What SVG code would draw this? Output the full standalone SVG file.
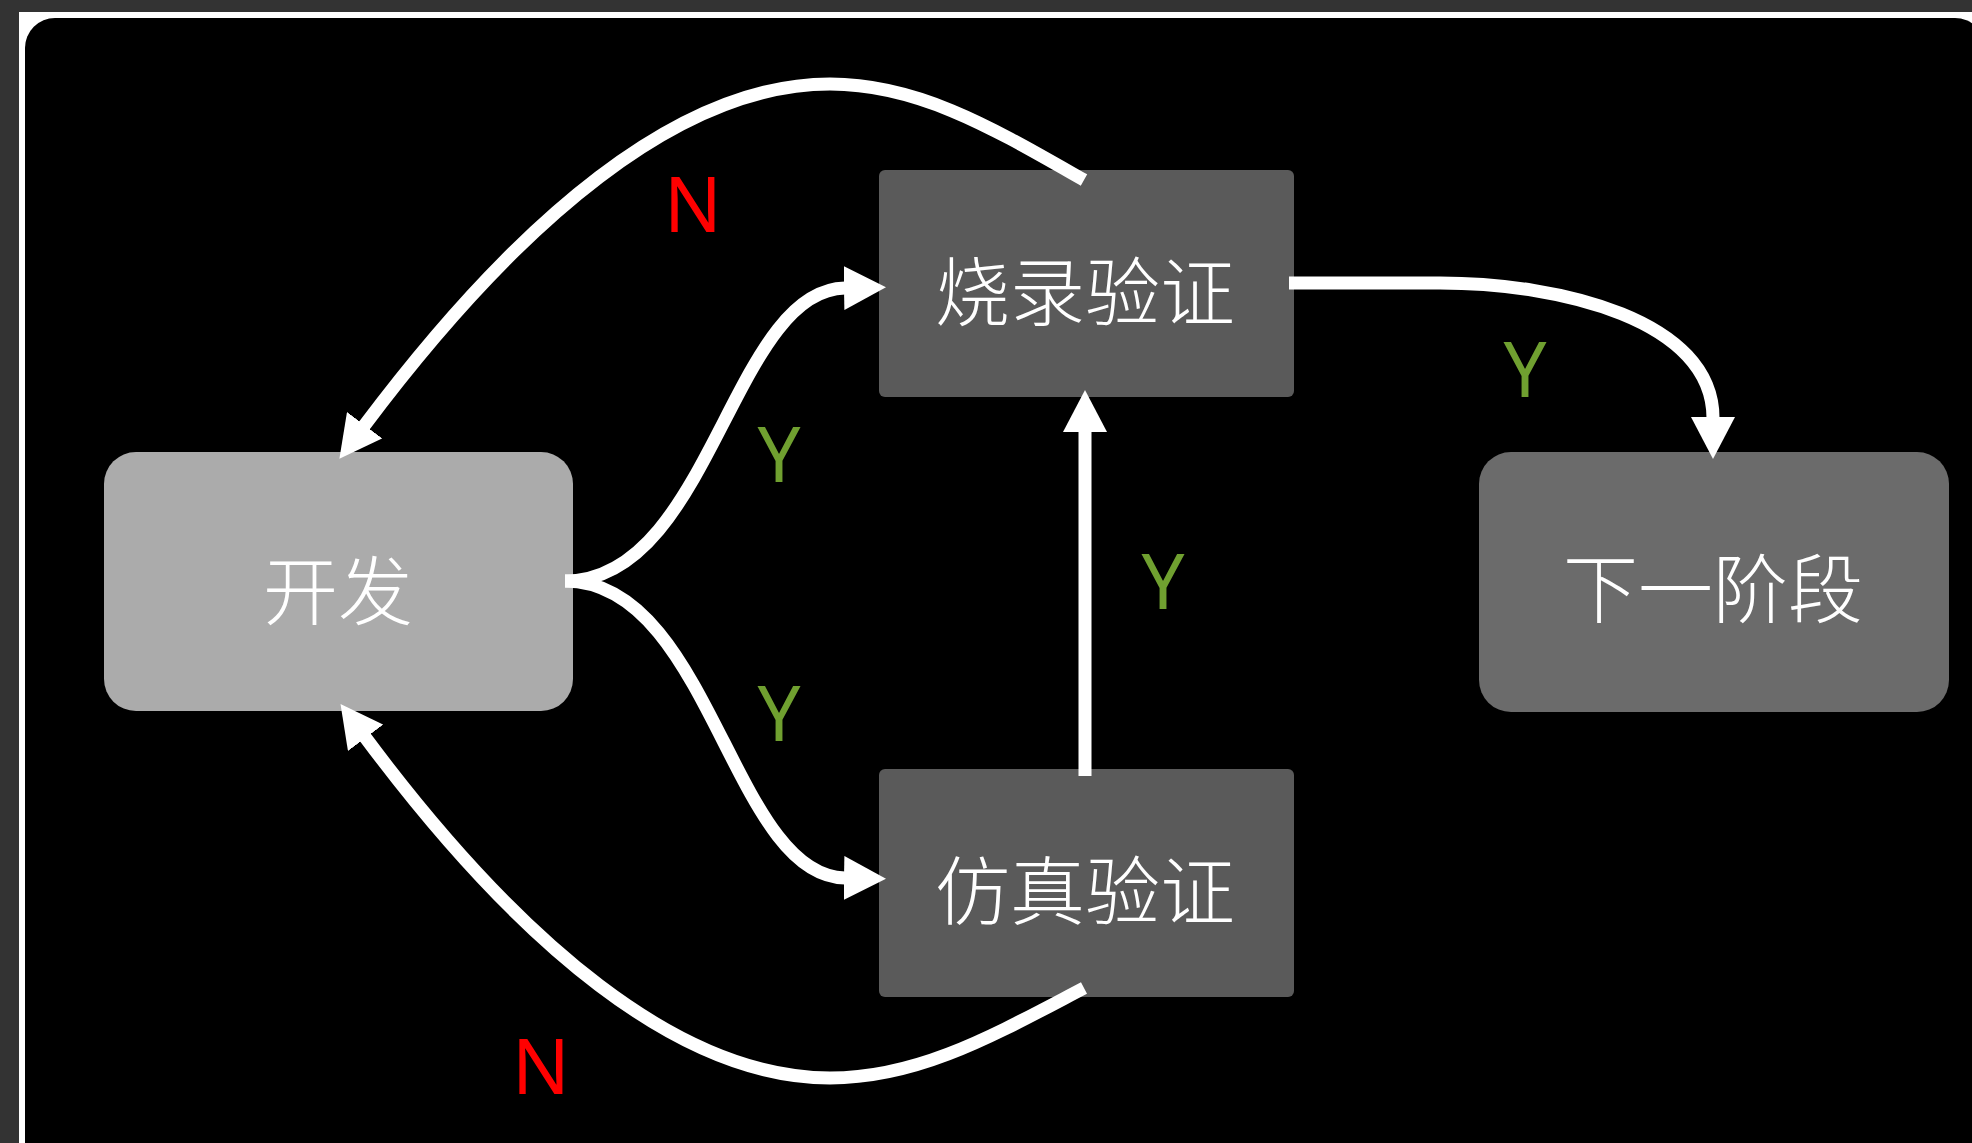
<svg xmlns="http://www.w3.org/2000/svg" width="1972" height="1143" viewBox="0 0 1972 1143">
  <style>
    .node-text { font-family: "Noto Sans CJK SC", "Noto Sans", sans-serif; font-size: 75px; font-weight: 300; fill: #ffffff; text-anchor: middle; dominant-baseline: central; }
    .conn { fill: none; stroke: #ffffff; stroke-width: 13; }
    .lbl { font-family: "Noto Sans", "Liberation Sans", sans-serif; font-size: 76px; text-anchor: middle; }
    .lbl-n { fill: #ff0000; }
    .lbl-y { fill: #70a030; }
  </style>
  <defs>
    <marker id="arrow" markerUnits="userSpaceOnUse" markerWidth="42" markerHeight="44" viewBox="0 0 42 44" refX="1" refY="22" orient="auto">
      <path d="M0,0 L42,22 L0,44 z" fill="#ffffff"/>
    </marker>
  </defs>

  <!-- background frame -->
  <rect x="0" y="0" width="1972" height="1143" fill="#333333"/>
  <rect x="19" y="12" width="2000" height="1200" fill="#ffffff"/>
  <rect x="25" y="18" width="1960" height="1160" rx="30" ry="30" fill="#000000"/>

  <!-- nodes -->
  <g id="node-kaifa">
    <rect x="104" y="452" width="469" height="259" rx="32" ry="32" fill="#ababab"/>
    <text class="node-text" x="338" y="586">开发</text>
  </g>
  <g id="node-shaolu">
    <rect x="879" y="170" width="415" height="227" rx="6" ry="6" fill="#5a5a5a"/>
    <text class="node-text" x="1085" y="287">烧录验证</text>
  </g>
  <g id="node-fangzhen">
    <rect x="879" y="769" width="415" height="228" rx="6" ry="6" fill="#5a5a5a"/>
    <text class="node-text" x="1085" y="886">仿真验证</text>
  </g>
  <g id="node-next">
    <rect x="1479" y="452" width="470" height="260" rx="32" ry="32" fill="#6b6b6b"/>
    <text class="node-text" x="1713" y="584">下一阶段</text>
  </g>

  <!-- connectors -->
  <g id="connectors">
    <path class="conn" marker-end="url(#arrow)" d="M1084,180 C996,130 920,84 830,84 C680,84 520,218 364,426"/>
    <path class="conn" marker-end="url(#arrow)" d="M1084,988 C996,1034 920,1078 830,1078 C680,1078 520,945 365,737"/>
    <path class="conn" marker-end="url(#arrow)" d="M565,581 C710,581 732,290 845,288"/>
    <path class="conn" marker-end="url(#arrow)" d="M565,581 C710,581 732,876 845,878"/>
    <path class="conn" marker-end="url(#arrow)" d="M1085,776 L1085,431"/>
    <path class="conn" marker-end="url(#arrow)" d="M1289,283 L1440,283 C1560,283 1713,320 1713,418"/>
  </g>

  <!-- connector labels -->
  <g id="labels">
    <text class="lbl lbl-n" x="693" y="232">N</text>
    <text class="lbl lbl-n" x="541" y="1094">N</text>
    <text class="lbl lbl-y" x="779" y="482">Y</text>
    <text class="lbl lbl-y" x="779" y="741">Y</text>
    <text class="lbl lbl-y" x="1163" y="609">Y</text>
    <text class="lbl lbl-y" x="1525" y="397">Y</text>
  </g>
</svg>
